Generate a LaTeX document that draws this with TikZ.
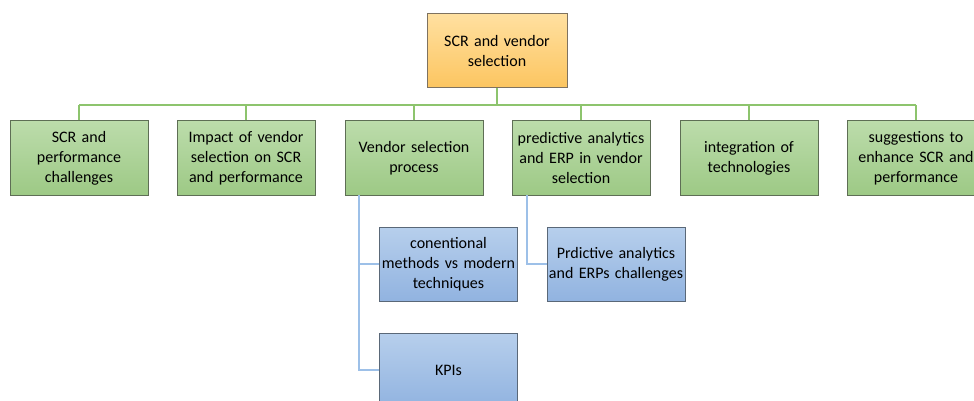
\documentclass[tikz,border=0pt]{standalone}
\usepackage{fontspec}
\setmainfont{Carlito}
\definecolor{gtop}{HTML}{BCDCAB}
\definecolor{gbot}{HTML}{9DC985}
\definecolor{gedge}{HTML}{5E6E55}
\definecolor{btop}{HTML}{B7CFEC}
\definecolor{bbot}{HTML}{91B3E0}
\definecolor{bedge}{HTML}{5A6878}
\definecolor{otop}{HTML}{FFE0A0}
\definecolor{obot}{HTML}{FCC560}
\definecolor{oedge}{HTML}{7E7260}
\definecolor{gline}{HTML}{8DC46D}
\definecolor{bline}{HTML}{9DC0E8}
\begin{document}
\begin{tikzpicture}[x=1pt,y=-1pt,
  box/.style={draw, line width=1pt, minimum width=138pt, minimum height=74pt,
    text width=138pt, align=center, inner sep=0pt,
    font=\fontsize{16}{20}\selectfont},
  gbox/.style={box, draw=gedge, top color=gtop, bottom color=gbot},
  bbox/.style={box, draw=bedge, top color=btop, bottom color=bbot},
  obox/.style={box, draw=oedge, top color=otop, bottom color=obot, minimum width=140pt},
  gconn/.style={draw=gline, line width=2pt},
  bconn/.style={draw=bline, line width=2pt}]
\useasboundingbox (0,0) rectangle (974,401);
\clip (0,0) rectangle (974,401);
\node[obox] (root) at (497,51) {SCR and vendor\\selection};
\node[gbox] (g1) at (79,158) {SCR and\\performance\\challenges};
\node[gbox] (g2) at (246,158) {Impact of vendor\\selection on SCR\\and performance};
\node[gbox] (g3) at (414,158) {Vendor selection\\process};
\node[gbox] (g4) at (581,158) {predictive analytics\\and ERP in vendor\\selection};
\node[gbox] (g5) at (749,158) {integration of\\technologies};
\node[gbox] (g6) at (916,158) {suggestions to\\enhance SCR and\\performance};
\node[bbox] (b1) at (448.5,264) {conentional\\methods vs modern\\techniques};
\node[bbox] (b2) at (448.5,370) {KPIs};
\node[bbox] (b3) at (616,264) {Prdictive analytics\\and ERPs challenges};
\coordinate (bus) at (497,105);
\draw[gconn] (root.south) -- (bus);
\foreach \n in {g1,g2,g3,g4,g5,g6}{
  \draw[gconn] (\n.north) -- (\n.north |- bus);
}
\draw[gconn] (g1.north |- bus) -- (g6.north |- bus);
\coordinate (v3) at (359,195);
\coordinate (v4) at (527,195);
\draw[bconn] (v3) |- (b1.west);
\draw[bconn] (v3) |- (b2.west);
\draw[bconn] (v4) |- (b3.west);
\end{tikzpicture}
\end{document}
